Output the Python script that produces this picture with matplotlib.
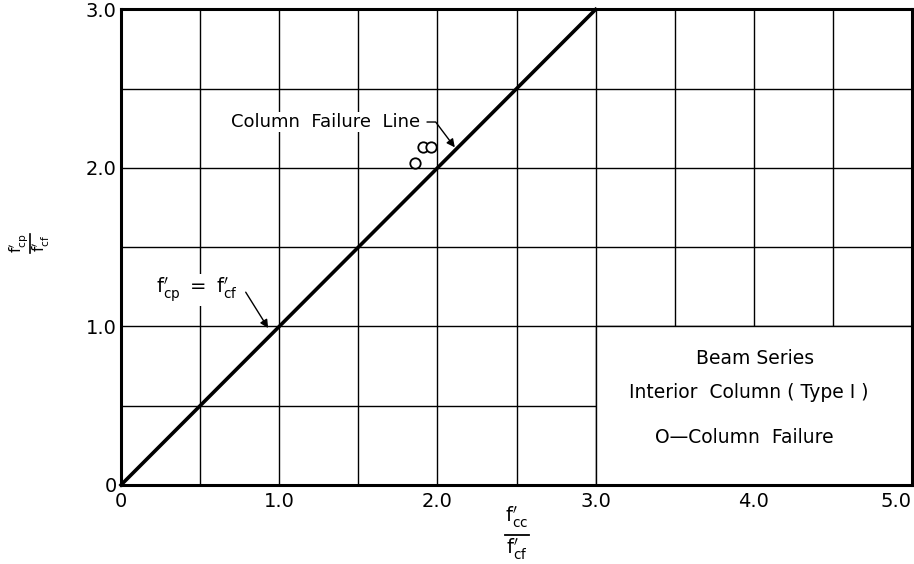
import numpy as np
import matplotlib
matplotlib.use("Agg")
import matplotlib.pyplot as plt
from matplotlib.patches import Rectangle
from matplotlib.lines import Line2D

# --- data ---
line_x = [0.0, 3.0]          # column failure line f'cp = f'cf
line_y = [0.0, 3.0]
failure_x = [1.86, 1.91, 1.96]   # column failure points
failure_y = [2.03, 2.13, 2.13]

x_ticks = [0, 0.5, 1.0, 1.5, 2.0, 2.5, 3.0, 3.5, 4.0, 4.5, 5.0]
x_labels = ["0", "", "1.0", "", "2.0", "", "3.0", "", "4.0", "", "5.0"]
y_ticks = [0, 0.5, 1.0, 1.5, 2.0, 2.5, 3.0]
y_labels = ["0", "", "1.0", "", "2.0", "", "3.0"]

legend_lines = ["Beam Series", "Interior  Column ( Type I )", "O\u2014Column  Failure"]


def fp(sub):
    # f' with a subscript, letters upright
    return r"$\mathrm{f}^{\prime}_{\mathrm{%s}}$" % sub


plt.rcParams['font.family'] = ['DejaVu Sans']
plt.rcParams['mathtext.fontset'] = 'dejavusans'

fig = plt.figure(figsize=(9.14, 5.64), dpi=100)
ax = fig.add_axes([0.1324, 0.1401, 0.8654, 0.8431])

ax.set_xlim(0, 5)
ax.set_ylim(0, 3)
ax.set_xticks(x_ticks)
ax.set_xticklabels(x_labels)
ax.set_yticks(y_ticks)
ax.set_yticklabels(y_labels)
ax.tick_params(length=0, labelsize=14)
ax.tick_params(axis='x', pad=5)
ax.tick_params(axis='y', pad=3)
ax.get_xticklabels()[-1].set_ha('right')

ax.grid(True, color='black', linewidth=1.0)
ax.set_axisbelow(True)
for s in ax.spines.values():
    s.set_linewidth(2.2)

# legend box covers the grid in the lower right corner
ax.add_patch(Rectangle((3.0, 0.0), 2.0, 1.0, facecolor='white', edgecolor='black',
                       linewidth=1.0, zorder=1))
ax.text(4.01, 0.80, legend_lines[0], ha='center', va='center', fontsize=13.5, zorder=3)
ax.text(3.97, 0.585, legend_lines[1], ha='center', va='center', fontsize=13.5, zorder=3)
ax.text(3.94, 0.30, legend_lines[2], ha='center', va='center', fontsize=13.5, zorder=3)

ax.plot(line_x, line_y, color='black', linewidth=2.6, zorder=4, clip_on=False)
ax.plot(failure_x, failure_y, linestyle='none', marker='o', markersize=7.5,
        markerfacecolor='white', markeredgecolor='black', markeredgewidth=1.3, zorder=5)

# annotations
ax.annotate("Column  Failure  Line", xy=(2.11, 2.13), xytext=(1.89, 2.29),
            ha='right', va='center', fontsize=13, zorder=6,
            bbox=dict(facecolor='white', edgecolor='none', pad=1),
            arrowprops=dict(arrowstyle='-|>', color='black', lw=1, mutation_scale=12,
                            connectionstyle="angle,angleA=0,angleB=127,rad=0",
                            shrinkA=4, shrinkB=0))
ax.annotate(fp("cp")[:-1] + r"\ =\ " + fp("cf")[1:], xy=(0.93, 0.99), xytext=(0.22, 1.23),
            ha='left', va='center', fontsize=14, zorder=6,
            bbox=dict(facecolor='white', edgecolor='none', pad=1),
            arrowprops=dict(arrowstyle='-|>', color='black', lw=1, mutation_scale=12,
                            connectionstyle="angle,angleA=0,angleB=122,rad=0",
                            shrinkA=5, shrinkB=0))

# x axis label: stacked fraction f'cc / f'cf
ax.text(0.5, -0.068, fp("cc"), transform=ax.transAxes, ha='center', va='center', fontsize=14)
ax.add_line(Line2D([0.486, 0.516], [-0.106, -0.106], transform=ax.transAxes,
                   color='black', linewidth=1.3, clip_on=False))
ax.text(0.5, -0.136, fp("cf"), transform=ax.transAxes, ha='center', va='center', fontsize=14)

# y axis label: rotated fraction f'cp / f'cf
ax.text(-0.130, 0.508, fp("cp"), transform=ax.transAxes, rotation=90,
        ha='center', va='center', fontsize=11)
ax.add_line(Line2D([-0.115, -0.115], [0.488, 0.528], transform=ax.transAxes,
                   color='black', linewidth=1.2, clip_on=False))
ax.text(-0.100, 0.508, fp("cf"), transform=ax.transAxes, rotation=90,
        ha='center', va='center', fontsize=11)

fig.savefig("out.png", dpi=100)
